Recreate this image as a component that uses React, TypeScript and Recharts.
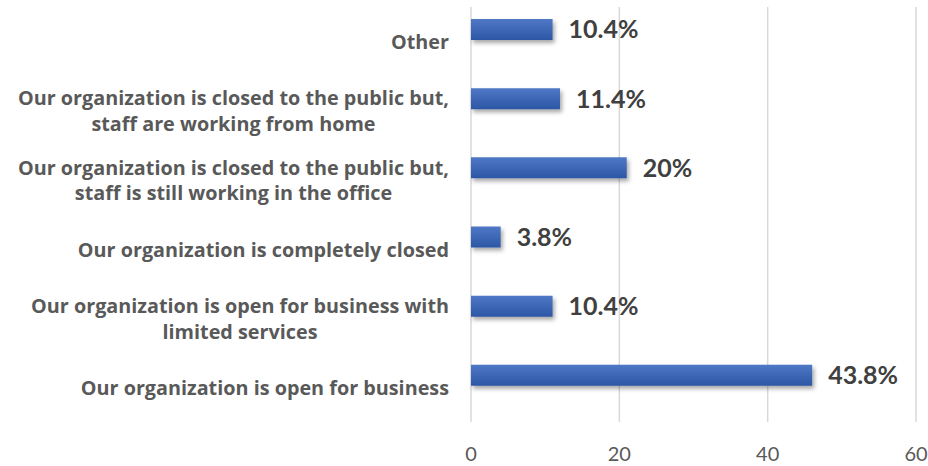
import React from 'react';
import { BarChart, Bar, XAxis, YAxis, CartesianGrid, LabelList } from 'recharts';

// survey answers, top to bottom as drawn
const categories = [
  'Other',
  'Our organization is closed to the public but,\nstaff are working from home',
  'Our organization is closed to the public but,\nstaff is still working in the office',
  'Our organization is completely closed',
  'Our organization is open for business with\nlimited services',
  'Our organization is open for business',
];
const responses = [11, 12, 21, 4, 11, 46];
const percentLabels = ['10.4%', '11.4%', '20%', '3.8%', '10.4%', '43.8%'];
const xTicks = [0, 20, 40, 60];

const data = categories.map((category, i) => ({
  category,
  responses: responses[i],
  pct: percentLabels[i],
}));

const FONT = 'Lato, "Open Sans", sans-serif';
const CAT_FONT = '"Open Sans"';
const CAT_FONT_SIZE = 19.8;

let measureCtx: CanvasRenderingContext2D | null = null;
function textWidth(text: string, font: string) {
  if (!measureCtx) measureCtx = document.createElement('canvas').getContext('2d');
  if (!measureCtx) return text.length * 9.5;
  measureCtx.font = font;
  return measureCtx.measureText(text).width;
}

// multi-line labels: block is right-aligned, lines centred inside it
function CategoryTick(props: any) {
  const { x, y, payload } = props;
  const lines = String(payload.value).split('\n');
  const font = `bold ${CAT_FONT_SIZE}px ${CAT_FONT}`;
  const blockW = Math.max(...lines.map((l) => textWidth(l, font)));
  const cx = x - blockW / 2;
  const lineH = 25.7;
  const y0 = y + 12 - ((lines.length - 1) * lineH) / 2;
  return (
    <g>
      {lines.map((l, i) => (
        <text
          key={i}
          x={cx}
          y={y0 + i * lineH}
          textAnchor="middle"
          dominantBaseline="central"
          fontFamily={CAT_FONT}
          fontWeight="bold"
          fontSize={CAT_FONT_SIZE}
          fill="#595959"
        >
          {l}
        </text>
      ))}
    </g>
  );
}

export default function App() {
  return (
    <div style={{ position: 'fixed', left: 0, top: 0, background: '#fff' }}>
      <BarChart
        width={928}
        height={466}
        data={data}
        layout="vertical"
        margin={{ top: 7, right: 12, bottom: 0, left: 0 }}
        barSize={21}
      >
        <defs>
          <linearGradient id="barFill" x1="0" y1="0" x2="0" y2="1">
            <stop offset="0%" stopColor="#4f78c6" />
            <stop offset="100%" stopColor="#2c57a5" />
          </linearGradient>
          <filter id="barShadow" x="-10%" y="-40%" width="130%" height="200%">
            <feDropShadow dx="2" dy="3" stdDeviation="2" floodColor="#000" floodOpacity="0.35" />
          </filter>
        </defs>
        <CartesianGrid horizontal={false} stroke="#d9d9d9" strokeWidth={1.5} />
        <XAxis
          type="number"
          domain={[0, 60]}
          ticks={xTicks}
          axisLine={false}
          tickLine={false}
          tickSize={0}
          tickMargin={25}
          height={44}
          tick={{ fill: '#595959', fontSize: 20, fontFamily: FONT }}
        />
        <YAxis
          type="category"
          dataKey="category"
          width={471}
          axisLine={false}
          tickLine={false}
          tickSize={0}
          tickMargin={22}
          padding={{ top: -12, bottom: 12 }}
          interval={0}
          tick={<CategoryTick />}
        />
        <Bar
          dataKey="responses"
          fill="url(#barFill)"
          filter="url(#barShadow)"
          isAnimationActive={false}
        >
          <LabelList
            dataKey="pct"
            position="right"
            offset={16}
            fill="#404040"
            fontSize={25}
            fontWeight="bold"
            fontFamily={FONT}
          />
        </Bar>
      </BarChart>
    </div>
  );
}
